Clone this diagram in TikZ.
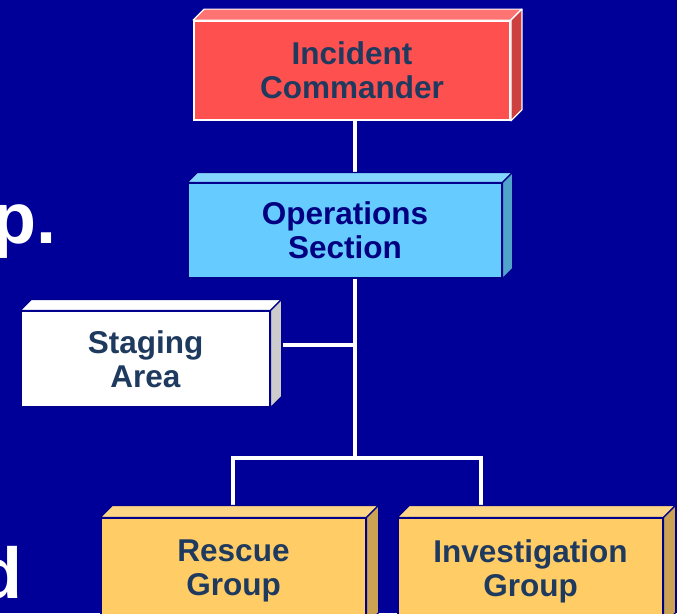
\documentclass[tikz,border=0pt]{standalone}
\usepackage{fontspec}
\setmainfont{Liberation Sans}
\usetikzlibrary{backgrounds}

\definecolor{slide}{HTML}{000099}
\definecolor{edge}{HTML}{00008C}
\definecolor{label}{HTML}{1F3A5F}
\definecolor{opslabel}{HTML}{000080}
\definecolor{icfront}{HTML}{FF5050}
\definecolor{ictop}{HTML}{FF7373}
\definecolor{icside}{HTML}{CC4040}
\definecolor{opsfront}{HTML}{66CCFF}
\definecolor{opstop}{HTML}{85D6FF}
\definecolor{opsside}{HTML}{52A3CC}
\definecolor{stagefront}{HTML}{FFFFFF}
\definecolor{stagetop}{HTML}{FFFFFF}
\definecolor{stageside}{HTML}{CCCCCC}
\definecolor{groupfront}{HTML}{FFCC66}
\definecolor{grouptop}{HTML}{FFD685}
\definecolor{groupside}{HTML}{CCA352}

% top and right faces of a raised box: node name, top colour, side colour, border colour, depth
\newcommand\bevelfaces[5]{%
  \filldraw[fill=#2, draw=#4, line width=1.2pt, line join=round]
    (#1.north west) -- ([shift={(#5,-#5)}]#1.north west)
    -- ([shift={(#5,-#5)}]#1.north east) -- (#1.north east) -- cycle;
  \filldraw[fill=#3, draw=#4, line width=1.2pt, line join=round]
    (#1.north east) -- ([shift={(#5,-#5)}]#1.north east)
    -- ([shift={(#5,-#5)}]#1.south east) -- (#1.south east) -- cycle;
}

\begin{document}
\begin{tikzpicture}[x=1pt, y=-1pt,
  boxbase/.style={rectangle, inner sep=0pt, align=center,
    font=\fontsize{31.5}{34}\selectfont\bfseries, text=label,
    draw=edge, line width=1.2pt},
  icbox/.style={boxbase, fill=icfront, draw=white, line width=1.8pt,
    minimum width=316pt, minimum height=99pt},
  opsbox/.style={boxbase, fill=opsfront, text=opslabel,
    minimum width=314pt, minimum height=95pt},
  stagebox/.style={boxbase, fill=stagefront,
    minimum width=249pt, minimum height=96pt},
  groupbox/.style={boxbase, fill=groupfront,
    minimum width=265pt, minimum height=106pt},
  slidetext/.style={text=white, inner sep=0pt,
    font=\fontsize{72}{80}\selectfont\bfseries},
  link/.style={draw=white, line width=4.5pt}]

\useasboundingbox (0,0) rectangle (677,613);
\begin{scope}[on background layer]
  \fill[slide] (0,0) rectangle (677,613);
\end{scope}

% slide text running in from the left edge
\node[slidetext, anchor=base east] (lead1) at (57,243) {p.};
\node[slidetext, anchor=base east] (lead2) at (23,598) {d};

% organisation boxes
\node[icbox] (ic) at (352,70.5) {Incident\\Commander};
\bevelfaces{ic}{ictop}{icside}{white}{11}

\node[opsbox] (ops) at (345,230.5) {Operations\\Section};
\bevelfaces{ops}{opstop}{opsside}{edge}{10}

\node[stagebox] (stage) at (145.5,359) {Staging\\Area};
\bevelfaces{stage}{stagetop}{stageside}{edge}{11}

\node[groupbox] (rescue) at (233.5,571) {Rescue\\Group};
\bevelfaces{rescue}{grouptop}{groupside}{edge}{12}

\node[groupbox] (invest) at (530.5,571) {Investigation\\Group};
\bevelfaces{invest}{grouptop}{groupside}{edge}{12}

% connector junctions
\coordinate (trunk) at (355,458);
\coordinate (barL) at (233,458);
\coordinate (barR) at (481,458);
\coordinate (stub) at (283,345);

\begin{scope}[on background layer]
  \draw[link] (ic.south -| trunk) -- (ops.north -| trunk);
  \draw[link] (ops.south -| trunk) -- (trunk);
  \draw[link] (stub) -- (stub -| trunk);
  \draw[link, line join=miter] (rescue.north -| barL) -- (barL) -- (barR)
    -- (invest.north -| barR);
\end{scope}
\end{tikzpicture}
\end{document}
